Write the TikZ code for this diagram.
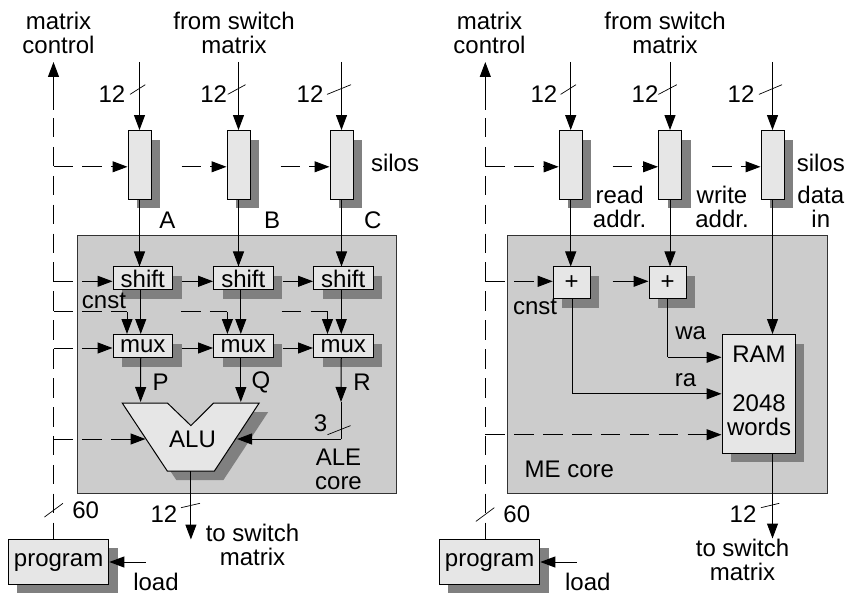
\documentclass[tikz,border=0pt]{standalone}
\usepackage{fontspec}
\setmainfont{Liberation Sans}
\usetikzlibrary{arrows.meta,shadows}
\definecolor{coregray}{HTML}{CCCCCC}
\definecolor{boxgray}{HTML}{E6E6E6}
\definecolor{shadegray}{HTML}{808080}
\tikzset{
  shade9/.style={drop shadow={shadow xshift=9pt,shadow yshift=-9pt,fill=shadegray,opacity=1}},
  block/.style={draw=black,line width=1pt,fill=boxgray,inner sep=0pt,shade9},
  silobox/.style={block,minimum width=23pt,minimum height=68.5pt},
  shiftbox/.style={block,minimum width=59.5pt,minimum height=23pt},
  plusbox/.style={block,minimum width=37pt,minimum height=32pt},
  core/.style={draw=black!80,line width=1pt,fill=coregray},
  flow/.style={draw=black,line width=1pt,-{Triangle[length=15pt,width=11pt]}},
  line/.style={draw=black,line width=1pt},
  ctl/.style={flow,dash pattern=on 19.5pt off 9.4pt},
  ctlline/.style={line,dash pattern=on 19.5pt off 9.4pt},
  tick/.style={draw=black,line width=0.7pt},
  lab/.style={inner sep=0pt,font=\fontsize{24}{24}\selectfont},
  lab2/.style={lab,align=center},
}
\begin{document}
\begin{tikzpicture}[x=1pt,y=-1pt]
\useasboundingbox (0,0) rectangle (845,593);

\path[core] (77,235.5) rectangle (396,493.5);
\path[core] (507.5,235.5) rectangle (827,493.5);

\node[lab2] (t1) at (58.5,33) {matrix\\control};
\node[lab2] (t2) at (234,33) {from switch\\matrix};
\node[lab2] (t3) at (489.5,33) {matrix\\control};
\node[lab2] (t4) at (665,33) {from switch\\matrix};

\node[silobox] (s1) at (139.5,164.8) {};
\node[silobox] (s2) at (238.5,164.8) {};
\node[silobox] (s3) at (341.5,164.8) {};
\node[silobox] (s4) at (570.7,164.8) {};
\node[silobox] (s5) at (670,164.8) {};
\node[silobox] (s6) at (772.5,164.8) {};

\node[shiftbox,lab] (a1) at (142.75,278.5) {shift};
\node[shiftbox,lab] (a2) at (243.3,278.5) {shift};
\node[shiftbox,lab] (a3) at (343.25,278.5) {shift};
\node[shiftbox,lab] (m1) at (142.75,346) {mux};
\node[shiftbox,lab] (m2) at (243.3,346) {mux};
\node[shiftbox,lab] (m3) at (343.25,346) {mux};

\node[plusbox,lab] (b1) at (571.7,283) {+};
\node[plusbox,lab] (b2) at (667.5,283) {+};

\path[draw=black,line width=1pt,fill=boxgray,shade9] (122.2,403) -- (167.4,403) -- (190.9,425.6) -- (213.7,403) -- (259.2,403) -- (214.3,471.2) -- (167.4,471.2) -- cycle;
\node[lab] (alu) at (192.5,439) {ALU};

\node[block,minimum width=73pt,minimum height=118.5pt] (ram) at (758.5,393.75) {};
\node[block,lab,minimum width=100.5pt,minimum height=45.5pt] (p1) at (58.6,562.2) {program};
\node[block,lab,minimum width=100.5pt,minimum height=45.5pt] (p2) at (489.6,562.2) {program};

\coordinate (c1) at (53.5,62);
\coordinate (c2) at (485.3,62);
\coordinate (d1) at (53.5,110);
\coordinate (d2) at (485.3,110);
\coordinate (e1) at (53.5,118);
\coordinate (e2) at (485.3,118);
\coordinate (i1) at (139.5,62);
\coordinate (i2) at (238.5,62);
\coordinate (i3) at (341.5,62);
\coordinate (i4) at (570.7,62);
\coordinate (i5) at (670,62);
\coordinate (i6) at (772.5,62);
\coordinate (o1) at (190.9,539.5);
\coordinate (o2) at (772.5,538.5);
\coordinate (l1) at (145.7,562);
\coordinate (l2) at (576.7,562);
\coordinate (au) at (190.9,471.2);
\coordinate (ap) at (140.6,402);
\coordinate (aq) at (240.8,402);
\coordinate (ar) at (341,402);
\coordinate (ac) at (341,439);
\coordinate (al) at (145.5,439);
\coordinate (ag) at (237,439);
\coordinate (y1) at (0,166.8);
\coordinate (y2) at (0,281.3);
\coordinate (y3) at (0,311.8);
\coordinate (y4) at (0,348);
\coordinate (y5) at (0,357.3);
\coordinate (y6) at (0,393.8);
\coordinate (y7) at (0,434.7);
\coordinate (k3) at (127,311.8);
\coordinate (k4) at (181,311.8);
\coordinate (k5) at (227.4,311.8);
\coordinate (k6) at (281.6,311.8);
\coordinate (k7) at (327.5,311.8);
\coordinate (x1) at (572,393.8);
\coordinate (x2) at (667.5,357.3);

\path[ctlline] (e1) -- (p1.north -| e1);
\path[ctlline] (e2) -- (p2.north -| e2);
\path[flow] (d1) -- (c1);
\path[flow] (d2) -- (c2);

\path[flow] (i1) -- (s1.north);
\path[flow] (i2) -- (s2.north);
\path[flow] (i3) -- (s3.north);
\path[flow] (i4) -- (s4.north);
\path[flow] (i5) -- (s5.north);
\path[flow] (i6) -- (s6.north);

\path[ctl] (c1 |- y1) -- (s1.west |- y1);
\path[ctl,shorten <=30pt] (s1.east |- y1) -- (s2.west |- y1);
\path[ctl,shorten <=30pt] (s2.east |- y1) -- (s3.west |- y1);
\path[ctl] (c2 |- y1) -- (s4.west |- y1);
\path[ctl,shorten <=30pt] (s4.east |- y1) -- (s5.west |- y1);
\path[ctl,shorten <=30pt] (s5.east |- y1) -- (s6.west |- y1);

\path[flow] (s1.south) -- (s1.south |- a1.north);
\path[flow] (s2.south) -- (s2.south |- a2.north);
\path[flow] (s3.south) -- (s3.south |- a3.north);
\path[flow] (s4.south) -- (s4.south |- b1.north);
\path[flow] (s5.south) -- (s5.south |- b2.north);
\path[flow] (s6.south) -- (s6.south |- ram.north);

\path[ctl] (c1 |- y2) -- (a1.west |- y2);
\path[flow,shorten <=9pt] (a1.east |- y2) -- (a2.west |- y2);
\path[flow,shorten <=9pt] (a2.east |- y2) -- (a3.west |- y2);
\path[ctl] (c2 |- y2) -- (b1.west |- y2);
\path[flow,shorten <=22pt] (b1.east |- y2) -- (b2.west |- y2);

\path[flow] ([xshift=-2pt]a1.south) -- ([xshift=-2pt]m1.north);
\path[flow] ([xshift=-2.5pt]a2.south) -- ([xshift=-2.5pt]m2.north);
\path[flow] ([xshift=-2pt]a3.south) -- ([xshift=-2pt]m3.north);

\path[ctlline] (c1 |- y3) -- (k3);
\path[flow] (k3) -- (k3 |- m1.north);
\path[ctlline] (k4) -- (k5);
\path[flow] (k5) -- (k5 |- m2.north);
\path[ctlline] (k6) -- (k7);
\path[flow] (k7) -- (k7 |- m3.north);

\path[ctl] (c1 |- y4) -- (m1.west |- y4);
\path[flow,shorten <=9pt] (m1.east |- y4) -- (m2.west |- y4);
\path[flow,shorten <=9pt] (m2.east |- y4) -- (m3.west |- y4);

\path[flow] ([xshift=-2pt]m1.south) -- (ap);
\path[flow] ([xshift=-2.5pt]m2.south) -- (aq);
\path[flow] ([xshift=-2pt]m3.south) -- (ar);
\path[line] (ar) -- (ac);
\path[flow] (ac) -- (ag);
\path[ctl] (c1 |- al) -- (al);
\path[flow] (au) -- (o1);
\path[flow] (l1) -- (p1.east |- l1);
\path[flow] (l2) -- (p2.east |- l2);

\path[line] (b1.south -| x1) -- (x1);
\path[flow] (x1) -- (ram.west |- y6);
\path[line] (b2.south) -- (x2);
\path[flow] (x2) -- (ram.west |- y5);
\path[ctl] (c2 |- y7) -- (ram.west |- y7);
\path[flow] (ram.south -| o2) -- (o2);

\path[tick] (130,94.4) -- (145.3,84.7);
\path[tick] (227.7,94.4) -- (245.5,84.7);
\path[tick] (327,94.4) -- (351,84.7);
\path[tick] (560.6,94.4) -- (576,84.7);
\path[tick] (658.4,94.4) -- (676.8,84.7);
\path[tick] (758.9,94.4) -- (782,84.7);
\path[tick] (181,507.7) -- (200,503.3);
\path[tick] (760.9,507.7) -- (779.3,503.3);
\path[tick] (44.5,517) -- (63,503.3);
\path[tick] (475.9,521.4) -- (494.3,507.7);
\path[tick] (327.5,434.7) -- (350.6,425.6);

\node[lab] (n1) at (112,94) {12};
\node[lab] (n2) at (213.7,94) {12};
\node[lab] (n3) at (310,94) {12};
\node[lab] (n4) at (543.9,94) {12};
\node[lab] (n5) at (645,94) {12};
\node[lab] (n6) at (741,94) {12};
\node[lab] (n7) at (164,514) {12};
\node[lab] (n8) at (743,514) {12};
\node[lab] (n9) at (85.7,510) {60};
\node[lab] (n10) at (516.8,514.4) {60};
\node[lab] (n11) at (320.5,423) {3};

\node[lab] (silo1) at (395,163) {silos};
\node[lab] (silo2) at (820.8,163) {silos};
\node[lab] (la) at (167.5,220) {A};
\node[lab] (lb) at (272,220) {B};
\node[lab] (lc) at (372.7,220) {C};
\node[lab] (lp) at (160.7,382) {P};
\node[lab] (lq) at (261,382) {Q};
\node[lab] (lr) at (362,382) {R};
\node[lab] (k1) at (104,301) {cnst};
\node[lab] (k2) at (535,306.7) {cnst};
\node[lab2] (ale) at (338.5,469.5) {ALE\\core};
\node[lab] (me) at (569.3,469) {ME core};
\node[lab2] (rd) at (619.6,206.5) {read\\addr.};
\node[lab2] (wr) at (722,206.5) {write\\addr.};
\node[lab2] (di) at (820.8,206.5) {data\\in};
\node[lab] (wa) at (690.6,333) {wa};
\node[lab] (ra) at (685.5,379.8) {ra};
\node[lab] (r1) at (759,354.3) {RAM};
\node[lab2] (r2) at (759,415) {2048\\words};
\node[lab2] (to1) at (252.5,544.5) {to switch\\matrix};
\node[lab2] (to2) at (742.5,560) {to switch\\matrix};
\node[lab] (ld1) at (156,581.5) {load};
\node[lab] (ld2) at (587.8,581.5) {load};
\end{tikzpicture}
\end{document}
